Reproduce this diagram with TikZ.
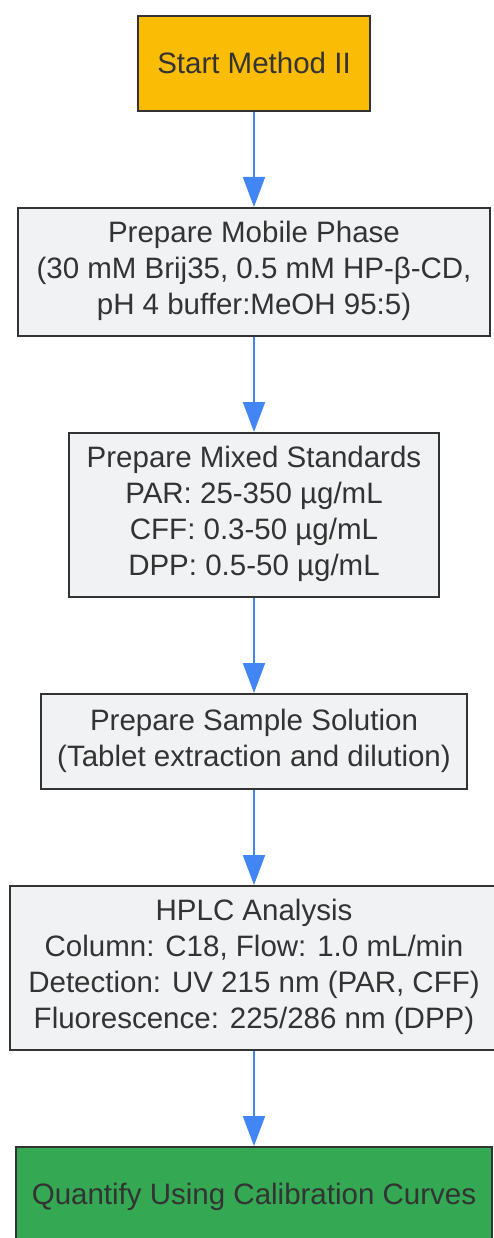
\documentclass[tikz,border=0pt]{standalone}
\usepackage{fontspec}
\setmainfont{Liberation Sans}
\usepackage{tikz}
\usetikzlibrary{arrows.meta, positioning}
\definecolor{boxline}{HTML}{333333}
\definecolor{stepfill}{HTML}{F1F2F4}
\definecolor{startfill}{HTML}{FBBC05}
\definecolor{endfill}{HTML}{34A853}
\definecolor{edgeblue}{HTML}{4285F4}
\newcommand{\linestrut}{\rule[-8pt]{0pt}{36pt}}
\tikzset{
  procbox/.style={draw=boxline, line width=2pt, fill=stepfill, text=boxline,
    align=center, inner xsep=16pt, inner ysep=0pt,
    font=\fontsize{29.5}{36}\selectfont,
    execute at begin node=\linestrut, execute at end node=\linestrut},
  flow/.style={draw=edgeblue, line width=2pt, -{Triangle[length=30pt, width=22pt]}}
}

\begin{document}
\begin{tikzpicture}[node distance=95pt]
    \useasboundingbox (0,0) rectangle (494pt,-1238pt);

    % steps
    \node[procbox, fill=startfill, minimum width=232pt, minimum height=95pt, anchor=north]
      (start) at (254pt,-15pt) {Start Method II};
    \node[procbox, minimum width=472pt, minimum height=128pt, below=of start]
      (mobile) {Prepare Mobile Phase\\(30 mM Brij35, 0.5 mM HP-β-CD,\\pH 4 buffer:MeOH 95:5)};
    \node[procbox, minimum width=370pt, minimum height=164pt, below=of mobile]
      (mixed) {Prepare Mixed Standards\\PAR: 25-350 µg/mL\\CFF: 0.3-50 µg/mL\\DPP: 0.5-50 µg/mL};
    \node[procbox, minimum width=424pt, minimum height=95pt, below=of mixed]
      (sample) {Prepare Sample Solution\\(Tablet extraction and dilution)};
    \node[procbox, minimum width=488pt, minimum height=164pt, below=of sample]
      (hplc) {HPLC Analysis\\Column: C18, Flow: 1.0 mL/min\\Detection: UV 215 nm (PAR, CFF)\\Fluorescence: 225/286 nm (DPP)};
    \node[procbox, fill=endfill, minimum width=476pt, minimum height=95pt, below=of hplc]
      (quantify) {Quantify Using Calibration Curves};

    % arrows
    \draw[flow] (start) -- (mobile);
    \draw[flow] (mobile) -- (mixed);
    \draw[flow] (mixed) -- (sample);
    \draw[flow] (sample) -- (hplc);
    \draw[flow] (hplc) -- (quantify);
  \end{tikzpicture}
\end{document}
